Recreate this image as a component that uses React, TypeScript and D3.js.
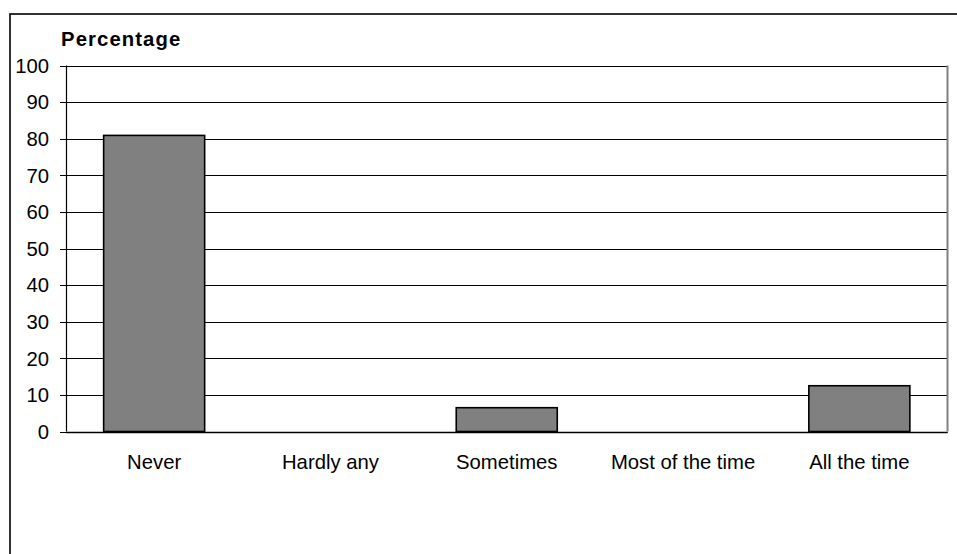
import React from "react";
import * as d3 from "d3";

const categories: string[] = ["Never", "Hardly any", "Sometimes", "Most of the time", "All the time"];
const values: number[] = [80.9, 0, 6.5, 0, 12.5];
const yTicks: number[] = [0, 10, 20, 30, 40, 50, 60, 70, 80, 90, 100];
const yTitle = "Percentage";

const W = 957;
const H = 554;
const plot = { left: 66, top: 65.5, right: 947.5, bottom: 431.5 };
const FONT = "Liberation Sans, Arial, sans-serif";
const FS = 20.3;

export default function App() {
  const x = d3
    .scaleBand<string>()
    .domain(categories)
    .range([plot.left, plot.right])
    .padding(0);
  const y = d3.scaleLinear().domain([0, 100]).range([plot.bottom, plot.top]);
  const barW = x.bandwidth() * 0.573;

  return (
    <div style={{ position: "absolute", left: 0, top: 0 }}>
      <svg width={W} height={H} style={{ display: "block", background: "#fff" }}>
        <rect x={10} y={14} width={960} height={560} fill="#fff" stroke="#000" strokeWidth={1.6} />
        {/* gridlines + ticks */}
        {yTicks.map((t) => (
          <g key={t}>
            <line
              x1={plot.left - 6}
              x2={plot.right}
              y1={Math.round(y(t)) + 0.5}
              y2={Math.round(y(t)) + 0.5}
              stroke="#000"
              strokeWidth={1}
            />
            <text
              x={49}
              y={y(t)}
              dy="0.36em"
              textAnchor="end"
              fontFamily={FONT}
              fontSize={FS}
              fill="#000"
            >
              {t}
            </text>
          </g>
        ))}
        {/* plot right border */}
        <line x1={plot.right} x2={plot.right} y1={plot.top} y2={plot.bottom} stroke="#808080" strokeWidth={2} />
        {/* bars */}
        {categories.map((c, i) =>
          values[i] > 0 ? (
            <rect
              key={c}
              x={(x(c) as number) + (x.bandwidth() - barW) / 2}
              y={y(values[i])}
              width={barW}
              height={y(0) - y(values[i])}
              fill="#808080"
              stroke="#000"
              strokeWidth={1.6}
            />
          ) : null
        )}
        {/* axes */}
        <line x1={plot.left + 0.5} x2={plot.left + 0.5} y1={plot.top} y2={plot.bottom} stroke="#000" strokeWidth={1.2} />
        <line x1={plot.left} x2={plot.right} y1={Math.round(y(0)) + 0.5} y2={Math.round(y(0)) + 0.5} stroke="#000" strokeWidth={1.4} />
        {/* category labels */}
        {categories.map((c) => (
          <text
            key={c}
            x={(x(c) as number) + x.bandwidth() / 2}
            y={469}
            textAnchor="middle"
            fontFamily={FONT}
            fontSize={FS}
            fill="#000"
          >
            {c}
          </text>
        ))}
        <text x={61} y={46} fontFamily={FONT} fontSize={FS} fontWeight="bold" letterSpacing={1.1} fill="#000">
          {yTitle}
        </text>
      </svg>
    </div>
  );
}
